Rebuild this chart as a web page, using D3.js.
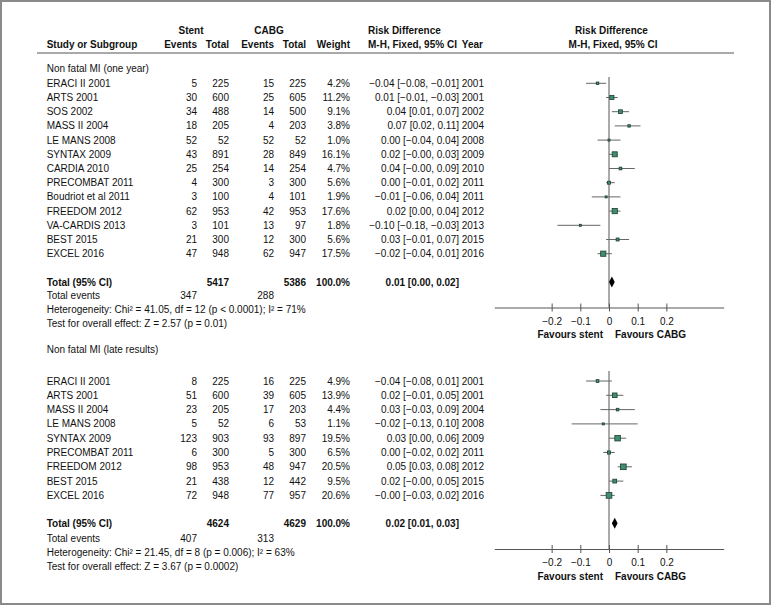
<!DOCTYPE html>
<html>
<head>
<meta charset="utf-8">
<script src="https://cdn.jsdelivr.net/npm/d3@7"></script>
<style>
  html, body { margin: 0; padding: 0; background: #fff; }
  svg text { font-family: "Liberation Sans", Arial, sans-serif; font-size: 10px; fill: #111; }
</style>
</head>
<body>
<svg id="chart" width="771" height="606"></svg>
<script>
// ---------- DATA ----------
const titles = ["Non fatal MI (one year)", "Non fatal MI (late results)"];

const studies1 = ["ERACI II 2001","ARTS 2001","SOS 2002","MASS II 2004","LE MANS 2008","SYNTAX 2009","CARDIA 2010","PRECOMBAT 2011","Boudriot et al 2011","FREEDOM 2012","VA-CARDIS 2013","BEST 2015","EXCEL 2016"];
const stentEvents1 = [5,30,34,18,52,43,25,4,3,62,3,21,47];
const stentTotal1  = [225,600,488,205,52,891,254,300,100,953,101,300,948];
const cabgEvents1  = [15,25,14,4,52,28,14,3,4,42,13,12,62];
const cabgTotal1   = [225,605,500,203,52,849,254,300,101,953,97,300,947];
const weight1      = [4.2,11.2,9.1,3.8,1.0,16.1,4.7,5.6,1.9,17.6,1.8,5.6,17.5];
const rd1          = [-0.04,0.01,0.04,0.07,0.00,0.02,0.04,0.00,-0.01,0.02,-0.10,0.03,-0.02];
const lo1          = [-0.08,-0.01,0.01,0.02,-0.04,-0.00,-0.00,-0.01,-0.06,0.00,-0.18,-0.01,-0.04];
const hi1          = [-0.01,0.03,0.07,0.11,0.04,0.03,0.09,0.02,0.04,0.04,-0.03,0.07,0.01];
const ciText1      = ["−0.04 [−0.08, −0.01]","0.01 [−0.01, −0.03]","0.04 [0.01, 0.07]","0.07 [0.02, 0.11]","0.00 [−0.04, 0.04]","0.02 [−0.00, 0.03]","0.04 [−0.00, 0.09]","0.00 [−0.01, 0.02]","−0.01 [−0.06, 0.04]","0.02 [0.00, 0.04]","−0.10 [−0.18, −0.03]","0.03 [−0.01, 0.07]","−0.02 [−0.04, 0.01]"];
const years1       = [2001,2001,2002,2004,2008,2009,2010,2011,2011,2012,2013,2015,2016];
const total1       = {stentTotal: 5417, cabgTotal: 5386, weight: "100.0%", rd: 0.01, lo: 0.00, hi: 0.02, ci: "0.01 [0.00, 0.02]", stentEvents: 347, cabgEvents: 288};
const hetero1      = "Heterogeneity: Chi² = 41.05, df = 12 (p < 0.0001); I² = 71%";
const effect1      = "Test for overall effect: Z = 2.57 (p = 0.01)";

const studies2 = ["ERACI II 2001","ARTS 2001","MASS II 2004","LE MANS 2008","SYNTAX 2009","PRECOMBAT 2011","FREEDOM 2012","BEST 2015","EXCEL 2016"];
const stentEvents2 = [8,51,23,5,123,6,98,21,72];
const stentTotal2  = [225,600,205,52,903,300,953,438,948];
const cabgEvents2  = [16,39,17,6,93,5,48,12,77];
const cabgTotal2   = [225,605,203,53,897,300,947,442,957];
const weight2      = [4.9,13.9,4.4,1.1,19.5,6.5,20.5,9.5,20.6];
const rd2          = [-0.04,0.02,0.03,-0.02,0.03,0.00,0.05,0.02,-0.00];
const lo2          = [-0.08,-0.01,-0.03,-0.13,0.00,-0.02,0.03,-0.00,-0.03];
const hi2          = [0.01,0.05,0.09,0.10,0.06,0.02,0.08,0.05,0.02];
const ciText2      = ["−0.04 [−0.08, 0.01]","0.02 [−0.01, 0.05]","0.03 [−0.03, 0.09]","−0.02 [−0.13, 0.10]","0.03 [0.00, 0.06]","0.00 [−0.02, 0.02]","0.05 [0.03, 0.08]","0.02 [−0.00, 0.05]","−0.00 [−0.03, 0.02]"];
const years2       = [2001,2001,2004,2008,2009,2011,2012,2015,2016];
const total2       = {stentTotal: 4624, cabgTotal: 4629, weight: "100.0%", rd: 0.02, lo: 0.01, hi: 0.03, ci: "0.02 [0.01, 0.03]", stentEvents: 407, cabgEvents: 313};
const hetero2      = "Heterogeneity: Chi² = 21.45, df = 8 (p = 0.006); I² = 63%";
const effect2      = "Test for overall effect: Z = 3.67 (p = 0.0002)";

const tickValues = [-0.2, -0.1, 0, 0.1, 0.2];
const favourLeft = "Favours stent";
const favourRight = "Favours CABG";

// ---------- LAYOUT ----------
const svg = d3.select("#chart");
svg.append("rect").attr("x", 1).attr("y", 1).attr("width", 769).attr("height", 603)
  .attr("fill", "#fff").attr("stroke", "#8a8a8a").attr("stroke-width", 2);

const col = {label: 46.7, sEv: 197, sTot: 229, cEv: 274, cTot: 306, w: 350, ci: 459, year: 484};
const x = d3.scaleLinear().domain([-0.4, 0.4]).range([494.3, 723.7]);

function txt(xp, yp, s, anchor = "start", bold = false) {
  return svg.append("text").attr("x", xp).attr("y", yp).attr("dy", "0.35em")
    .attr("text-anchor", anchor).attr("font-weight", bold ? "bold" : "normal").text(s);
}

// header
const hy1 = 30.7, hy2 = 44.3;
txt(191, hy1, "Stent", "middle", true);
txt(269, hy1, "CABG", "middle", true);
txt(368, hy1, "Risk Difference", "start", true);
txt(611.5, hy1, "Risk Difference", "middle", true);
txt(col.label, hy2, "Study or Subgroup", "start", true);
txt(col.sEv, hy2, "Events", "end", true);
txt(col.sTot, hy2, "Total", "end", true);
txt(col.cEv, hy2, "Events", "end", true);
txt(col.cTot, hy2, "Total", "end", true);
txt(col.w, hy2, "Weight", "end", true);
txt(368, hy2, "M-H, Fixed, 95% CI", "start", true);
txt(483, hy2, "Year", "end", true);
txt(613, hy2, "M-H, Fixed, 95% CI", "middle", true);
svg.append("line").attr("x1", 37).attr("x2", 734).attr("y1", 53).attr("y2", 53)
  .attr("stroke", "#555").attr("stroke-width", 1);

function panel(p) {
  const n = p.studies.length;
  const rowY = i => p.row0 + i * p.step;
  txt(col.label, p.titleY, p.title);

  // zero line
  svg.append("line").attr("x1", x(0)).attr("x2", x(0)).attr("y1", p.zeroTop).attr("y2", p.axisY)
    .attr("stroke", "#555").attr("stroke-width", 1);

  for (let i = 0; i < n; i++) {
    const y = rowY(i);
    txt(col.label, y, p.studies[i]);
    txt(col.sEv, y, p.sEv[i], "end");
    txt(col.sTot, y, p.sTot[i], "end");
    txt(col.cEv, y, p.cEv[i], "end");
    txt(col.cTot, y, p.cTot[i], "end");
    txt(col.w, y, p.weight[i].toFixed(1) + "%", "end");
    txt(col.ci, y, p.ciText[i], "end");
    txt(col.year, y, p.years[i], "end");
    // CI line
    svg.append("line").attr("x1", x(p.lo[i])).attr("x2", x(p.hi[i])).attr("y1", y).attr("y2", y)
      .attr("stroke", "#666").attr("stroke-width", 1);
    const s = Math.max(2, 1.25 * Math.sqrt(p.weight[i]));
    svg.append("rect").attr("x", x(p.rd[i]) - s / 2).attr("y", y - s / 2)
      .attr("width", s).attr("height", s)
      .attr("fill", "#3f8f6f").attr("stroke", "#1d3d30").attr("stroke-width", 0.8);
  }

  // totals
  const t = p.total;
  const ty = p.totalY;
  txt(col.label, ty, "Total (95% CI)", "start", true);
  txt(col.sTot, ty, t.stentTotal, "end", true);
  txt(col.cTot, ty, t.cabgTotal, "end", true);
  txt(col.w, ty, t.weight, "end", true);
  txt(col.ci, ty, t.ci, "end", true);
  const h = 5.5;
  svg.append("polygon")
    .attr("points", [[x(t.lo), ty], [x(t.rd), ty - h], [x(t.hi), ty], [x(t.rd), ty + h]].map(d => d.join(",")).join(" "))
    .attr("fill", "#000");

  txt(col.label, p.footY[0], "Total events");
  txt(col.sEv, p.footY[0], t.stentEvents, "end");
  txt(col.cEv, p.footY[0], t.cabgEvents, "end");
  txt(col.label, p.footY[1], p.hetero);
  txt(col.label, p.footY[2], p.effect);

  // axis
  const ax = svg.append("g").attr("transform", `translate(0,${p.axisY})`)
    .call(d3.axisBottom(x).tickValues(tickValues).tickSizeInner(4).tickSizeOuter(0).tickPadding(6)
      .tickFormat(d => d === 0 ? "0" : d3.format(".1f")(d)));
  ax.select(".domain").attr("stroke", "#555");
  ax.selectAll(".tick line").attr("y1", -4).attr("y2", 4).attr("stroke", "#555");
  ax.selectAll(".tick text").attr("font-size", "10px").attr("fill", "#111")
    .attr("font-family", "Liberation Sans, Arial, sans-serif");
  txt(x(0) - 6, p.axisY + 27, favourLeft, "end", true);
  txt(x(0) + 6, p.axisY + 27, favourRight, "start", true);
}

panel({
  title: titles[0], titleY: 68, row0: 83.3, step: 14.2,
  studies: studies1, sEv: stentEvents1, sTot: stentTotal1, cEv: cabgEvents1, cTot: cabgTotal1,
  weight: weight1, rd: rd1, lo: lo1, hi: hi1, ciText: ciText1, years: years1,
  total: total1, totalY: 282, footY: [295.8, 309.4, 323], hetero: hetero1, effect: effect1,
  zeroTop: 77, axisY: 307.5
});
panel({
  title: titles[1], titleY: 349.3, row0: 381, step: 14.3,
  studies: studies2, sEv: stentEvents2, sTot: stentTotal2, cEv: cabgEvents2, cTot: cabgTotal2,
  weight: weight2, rd: rd2, lo: lo2, hi: hi2, ciText: ciText2, years: years2,
  total: total2, totalY: 523.3, footY: [538.5, 552.7, 566.9], hetero: hetero2, effect: effect2,
  zeroTop: 371, axisY: 549
});
</script>
</body>
</html>
